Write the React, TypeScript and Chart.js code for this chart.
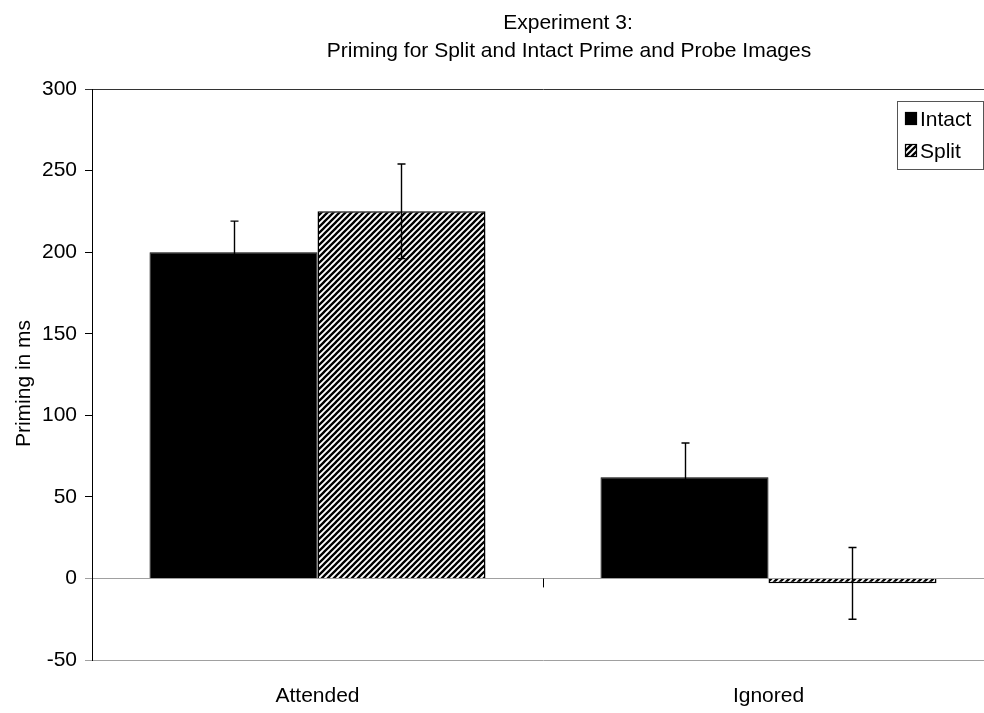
import { useEffect, useRef } from 'react';
import { Chart, registerables } from 'chart.js';

Chart.register(...registerables);

const categories = ['Attended', 'Ignored'];
const seriesNames = ['Intact', 'Split'];
const intactValues = [200, 62];
const splitValues = [225, -3];
const intactErrors = [19, 21];
const splitErrors = [29, 22];
const yTicks = [-50, 0, 50, 100, 150, 200, 250, 300];
const titleLines = ['Experiment 3:', 'Priming for Split and Intact Prime and Probe Images'];
const yTitle = 'Priming in ms';

const FONT = '"Liberation Sans", Arial, sans-serif';

function makeHatch(): CanvasPattern {
  const c = document.createElement('canvas');
  c.width = 6;
  c.height = 6;
  const g = c.getContext('2d')!;
  g.fillStyle = '#fff';
  g.fillRect(0, 0, 6, 6);
  g.strokeStyle = '#000';
  g.lineWidth = 2.3;
  g.beginPath();
  g.moveTo(-1, 7);
  g.lineTo(7, -1);
  g.moveTo(-1, 1);
  g.lineTo(1, -1);
  g.moveTo(5, 7);
  g.lineTo(7, 5);
  g.stroke();
  return g.createPattern(c, 'repeat')!;
}

export default function App() {
  const ref = useRef<HTMLCanvasElement | null>(null);

  useEffect(() => {
    if (!ref.current) return;
    const hatch = makeHatch();
    const errors = [intactErrors, splitErrors];

    const decor = {
      id: 'decor',
      afterDatasetsDraw(chart: any) {
        const ctx = chart.ctx as CanvasRenderingContext2D;
        const ys = chart.scales.y;
        const xs = chart.scales.x;
        ctx.save();
        // error bars
        ctx.strokeStyle = '#000';
        ctx.lineWidth = 1.4;
        chart.data.datasets.forEach((ds: any, i: number) => {
          const meta = chart.getDatasetMeta(i);
          meta.data.forEach((el: any, j: number) => {
            const v = ds.data[j] as number;
            const e = errors[i][j];
            const yt = ys.getPixelForValue(v + e);
            const yb = ys.getPixelForValue(v - e);
            const x = Math.round(el.x) + 0.5;
            ctx.beginPath();
            ctx.moveTo(x, yt);
            ctx.lineTo(x, yb);
            ctx.moveTo(x - 4, yt);
            ctx.lineTo(x + 4, yt);
            ctx.moveTo(x - 4, yb);
            ctx.lineTo(x + 4, yb);
            ctx.stroke();
          });
        });
        // category separator tick on zero axis
        const y0 = ys.getPixelForValue(0);
        ctx.lineWidth = 1;
        for (let k = 0; k < categories.length - 1; k++) {
          const xm = Math.round((xs.getPixelForValue(k) + xs.getPixelForValue(k + 1)) / 2) + 0.5;
          ctx.beginPath();
          ctx.moveTo(xm, y0);
          ctx.lineTo(xm, y0 + 9);
          ctx.stroke();
        }
        ctx.restore();
      },
      afterDraw(chart: any) {
        const ctx = chart.ctx as CanvasRenderingContext2D;
        const area = chart.chartArea;
        ctx.save();
        ctx.fillStyle = '#000';
        // title
        ctx.font = `21px ${FONT}`;
        ctx.textAlign = 'center';
        ctx.textBaseline = 'alphabetic';
        ctx.fillText(titleLines[0], 568, 29);
        ctx.fillText(titleLines[1], 569, 57);
        // y title
        ctx.save();
        ctx.translate(30, (area.top + area.bottom) / 2 + 9);
        ctx.rotate(-Math.PI / 2);
        ctx.font = `21px ${FONT}`;
        ctx.textAlign = 'center';
        ctx.fillText(yTitle, 0, 0);
        ctx.restore();
        // legend
        const lx = 897.5, ly = 101.5, lw = 86, lh = 68;
        ctx.fillStyle = '#fff';
        ctx.fillRect(lx, ly, lw, lh);
        ctx.strokeStyle = '#555';
        ctx.lineWidth = 1;
        ctx.strokeRect(lx, ly, lw, lh);
        const fills: (string | CanvasPattern)[] = ['#000', hatch];
        const rowsY = [119, 151];
        ctx.font = `21px ${FONT}`;
        ctx.textAlign = 'left';
        ctx.textBaseline = 'middle';
        seriesNames.forEach((name, i) => {
          ctx.fillStyle = fills[i];
          ctx.fillRect(905, rowsY[i] - 7, 12, 13);
          ctx.strokeStyle = '#000';
          ctx.lineWidth = 1.2;
          ctx.strokeRect(905.5, rowsY[i] - 6.5, 11, 12);
          ctx.fillStyle = '#000';
          ctx.fillText(name, 920, rowsY[i] + 1);
        });
        ctx.restore();
      },
    };

    const lineColor = (v: number) => {
      if (v === 300) return '#333';
      if (v === 0 || v === -50) return '#a0a0a0';
      return 'rgba(0,0,0,0)';
    };

    const chart = new Chart(ref.current, {
      type: 'bar',
      data: {
        labels: categories,
        datasets: [
          {
            label: seriesNames[0],
            data: intactValues,
            backgroundColor: '#000',
            borderColor: '#000',
            borderWidth: 1,
            categoryPercentage: 0.745,
            barPercentage: 1,
          },
          {
            label: seriesNames[1],
            data: splitValues,
            backgroundColor: hatch,
            borderColor: '#000',
            borderWidth: 1.5,
            categoryPercentage: 0.745,
            barPercentage: 1,
          },
        ],
      },
      options: {
        responsive: false,
        animation: false,
        devicePixelRatio: 1,
        layout: { padding: { top: 89, left: 0, right: 16, bottom: 0 } },
        plugins: {
          legend: { display: false },
          title: { display: false },
          tooltip: { enabled: false },
        },
        scales: {
          x: {
            afterFit: (s: any) => {
              s.height = 53;
            },
            grid: { display: false, drawTicks: false },
            border: { display: false },
            ticks: {
              font: { family: FONT, size: 21 },
              color: '#000',
              padding: 24,
            },
          },
          y: {
            min: -50,
            max: 300,
            afterBuildTicks: (s: any) => {
              s.ticks = yTicks.map((v) => ({ value: v }));
            },
            afterFit: (s: any) => {
              s.width = 92;
            },
            grid: {
              drawOnChartArea: true,
              tickLength: 7,
              lineWidth: 1,
              color: (c: any) => lineColor(c.tick.value),
              tickColor: (c: any) => {
                const v = c.tick.value;
                return v === 300 ? '#333' : v === 0 || v === -50 ? '#a0a0a0' : '#000';
              },
            },
            border: { color: '#000', width: 1 },
            ticks: {
              font: { family: FONT, size: 21 },
              color: '#000',
              padding: 8,
            },
          },
        },
      },
      plugins: [decor],
    });

    return () => chart.destroy();
  }, []);

  return (
    <div
      style={{
        position: 'fixed',
        left: 0,
        top: 0,
        width: 984,
        height: 713,
        overflow: 'hidden',
        background: '#fff',
      }}
    >
      <canvas ref={ref} width={1010} height={713} style={{ display: 'block', width: 1010, height: 713 }} />
    </div>
  );
}
